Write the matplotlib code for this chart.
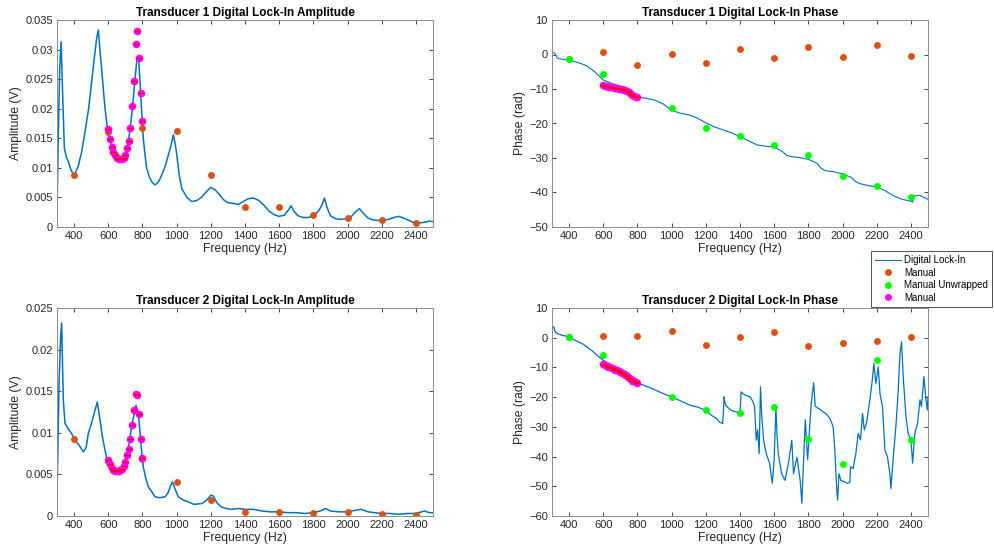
import numpy as np
import matplotlib
matplotlib.use("Agg")
import matplotlib.pyplot as plt
from matplotlib.ticker import FuncFormatter

plt.rcParams['font.family'] = ['Liberation Sans', 'DejaVu Sans']

# ---------------- data ----------------
f_manual = [400, 600, 800, 1000, 1200, 1400, 1600, 1800, 2000, 2200, 2400]
f_fine = [600, 610, 620, 630, 640, 650, 660, 670, 680, 690, 700,
          710, 720, 730, 740, 750, 760, 770, 780, 790, 800]

# transducer 1 amplitude trace
f_amp1 = [300, 308, 316, 324, 331, 343, 355, 366, 380, 396, 410, 425, 445, 464, 485, 503,
          520, 532, 542, 551, 561, 571, 581, 591, 601, 620, 640, 655, 669, 688, 708, 722,
          737, 752, 766, 776, 784, 791, 798, 805, 815, 825, 840, 855, 874, 893, 913, 932,
          952, 967, 981, 991, 1001, 1015, 1030, 1060, 1089, 1120, 1148, 1175, 1200, 1225,
          1250, 1275, 1300, 1330, 1360, 1390, 1420, 1450, 1480, 1510, 1540, 1570, 1600,
          1630, 1655, 1670, 1685, 1710, 1740, 1770, 1800, 1830, 1850, 1865, 1880, 1900,
          1930, 1960, 1990, 2020, 2045, 2070, 2090, 2120, 2150, 2180, 2210, 2240, 2270,
          2300, 2330, 2360, 2390, 2420, 2450, 2480, 2500]
amp1 = [0.0026, 0.0161, 0.027, 0.0313, 0.0244, 0.0133, 0.0118, 0.0111, 0.0098, 0.0088,
        0.0093, 0.0104, 0.0128, 0.0161, 0.020, 0.0246, 0.029, 0.0319, 0.0333, 0.030, 0.0268,
        0.0233, 0.0201, 0.0176, 0.0156, 0.0136, 0.0122, 0.0115, 0.0110, 0.0115, 0.0127,
        0.0153, 0.0189, 0.0235, 0.0279, 0.029, 0.0255, 0.0218, 0.0182, 0.015, 0.0122,
        0.0099, 0.0085, 0.0076, 0.0071, 0.0076, 0.0088, 0.0102, 0.0122, 0.0138, 0.0156,
        0.0142, 0.0122, 0.0088, 0.0065, 0.0050, 0.0043, 0.0045, 0.0051, 0.006, 0.0067,
        0.0063, 0.0055, 0.0046, 0.0041, 0.004, 0.0038, 0.0043, 0.0048, 0.0049, 0.0045,
        0.0037, 0.0027, 0.0021, 0.0018, 0.002, 0.0029, 0.0036, 0.0027, 0.0019, 0.0016,
        0.0016, 0.0019, 0.0027, 0.0037, 0.0049, 0.0033, 0.0019, 0.0014, 0.0013, 0.0014,
        0.0017, 0.0025, 0.0031, 0.0024, 0.0015, 0.0012, 0.0011, 0.0012, 0.0013, 0.0016,
        0.0018, 0.0015, 0.0011, 0.0007, 0.0007, 0.0008, 0.001, 0.0009]
amp1_manual = [0.0088, 0.016, 0.0168, 0.0162, 0.0088, 0.0033, 0.0034, 0.0021, 0.0016, 0.0011, 0.0007]
amp1_fine = [0.0165, 0.0148, 0.0135, 0.0127, 0.0121, 0.0117, 0.0115, 0.0115, 0.0115, 0.0117,
             0.0122, 0.0133, 0.0146, 0.0168, 0.0205, 0.0247, 0.031, 0.0331, 0.0285, 0.0226, 0.0179]

# transducer 1 phase trace
f_ph1 = [300, 305, 312, 320, 330, 345, 370, 400, 450, 500, 550, 600, 650, 700, 750, 775, 800,
         850, 900, 950, 1000, 1050, 1100, 1150, 1200, 1250, 1300, 1350, 1400, 1450, 1500,
         1550, 1600, 1625, 1650, 1675, 1700, 1750, 1800, 1850, 1875, 1900, 1950, 2000, 2050,
         2075, 2100, 2150, 2200, 2250, 2300, 2350, 2400, 2410, 2420, 2450, 2480, 2500]
ph1 = [0.0, 0.5, 0.5, 0.0, -1.0, -1.3, -1.4, -1.7, -2.3, -3.2, -5.0, -7.4, -8.4, -9.2, -10.3,
       -11.0, -12.3, -12.7, -13.2, -14.3, -16.2, -17.0, -17.5, -18.4, -19.8, -21.0, -21.8,
       -22.7, -23.8, -25.0, -26.2, -26.6, -26.8, -27.5, -28.2, -29.3, -29.6, -29.9, -30.4,
       -31.5, -33.0, -33.7, -34.0, -34.6, -35.6, -36.8, -37.4, -38.0, -38.4, -39.5, -41.0,
       -42.0, -42.5, -42.8, -41.0, -40.8, -41.5, -42.0]
ph1_manual = [-1.4, 0.7, -3.0, 0.2, -2.5, 1.6, -1.1, 2.3, -0.6, 2.7, -0.3]
f_unwrap = [400, 600, 1000, 1200, 1400, 1600, 1800, 2000, 2200, 2400]
ph1_unwrap = [-1.4, -5.6, -15.6, -21.3, -23.6, -26.3, -29.1, -35.2, -38.2, -41.3]
ph1_fine = [-8.8, -9.0, -9.2, -9.3, -9.4, -9.5, -9.6, -9.7, -9.8, -9.9, -10.0,
            -10.1, -10.2, -10.4, -10.6, -11.0, -11.4, -11.8, -12.1, -12.3, -12.4]

# transducer 2 amplitude trace
f_amp2 = [300, 312, 320, 327, 337, 347, 365, 386, 405, 430, 454, 470, 483, 503, 522, 536, 552,
          566, 581, 595, 610, 625, 640, 660, 679, 694, 708, 722, 737, 750, 762, 770, 776, 784,
          791, 798, 805, 820, 834, 855, 874, 900, 932, 950, 962, 975, 990, 1010, 1040, 1069,
          1100, 1148, 1175, 1200, 1215, 1235, 1260, 1290, 1320, 1360, 1400, 1450, 1500, 1550,
          1600, 1650, 1700, 1750, 1800, 1840, 1870, 1900, 1950, 2000, 2050, 2080, 2120, 2160,
          2200, 2250, 2300, 2350, 2400, 2450, 2480, 2500]
amp2 = [0.0023, 0.0159, 0.021, 0.0232, 0.0139, 0.0111, 0.0105, 0.0099, 0.0091, 0.0085, 0.0077,
        0.0082, 0.0099, 0.0112, 0.0127, 0.0137, 0.0115, 0.0095, 0.0079, 0.0066, 0.0059, 0.0055,
        0.0053, 0.0053, 0.0057, 0.0064, 0.0073, 0.0087, 0.0109, 0.0121, 0.0133, 0.0128, 0.0123,
        0.0105, 0.0087, 0.0072, 0.0059, 0.0045, 0.0035, 0.0029, 0.0023, 0.0022, 0.0023, 0.0028,
        0.0035, 0.0041, 0.0033, 0.0023, 0.0019, 0.0017, 0.0014, 0.0015, 0.0019, 0.0025, 0.0024,
        0.0016, 0.0011, 0.0009, 0.0008, 0.0009, 0.0008, 0.0008, 0.0006, 0.0005, 0.0005, 0.0004,
        0.0004, 0.0003, 0.0004, 0.0006, 0.0009, 0.0006, 0.0005, 0.0005, 0.0007, 0.0008, 0.0005,
        0.0004, 0.0003, 0.0003, 0.0002, 0.0003, 0.0003, 0.0006, 0.0004, 0.0004]
amp2_manual = [0.0093, 0.0066, 0.0068, 0.0041, 0.0019, 0.0005, 0.0005, 0.0004, 0.0005, 0.0002, 0.0001]
amp2_fine = [0.0067, 0.0062, 0.0058, 0.0055, 0.0054, 0.0054, 0.0054, 0.0055, 0.0057, 0.0060,
             0.0065, 0.0073, 0.0081, 0.0093, 0.0109, 0.0127, 0.0147, 0.0145, 0.0122, 0.0093, 0.0070]

# transducer 2 phase trace
f_ph2 = [300, 305, 312, 318, 330, 360, 400, 440, 483, 541, 575, 600, 650, 700, 750, 775, 800,
         873, 951, 1000, 1050, 1107, 1150, 1200, 1230, 1263, 1278, 1298, 1302, 1307, 1312,
         1320, 1350, 1380, 1400, 1403, 1406, 1420, 1440, 1460, 1475, 1485, 1495, 1503, 1512,
         1520, 1527, 1538, 1553, 1573, 1589, 1600, 1610, 1617, 1624, 1644, 1663, 1683, 1703,
         1713, 1733, 1752, 1762, 1772, 1782, 1796, 1808, 1817, 1831, 1840, 1870, 1909, 1929,
         1945, 1955, 1965, 1971, 1979, 1990, 2010, 2030, 2043, 2047, 2062, 2078, 2092, 2105,
         2117, 2127, 2140, 2160, 2174, 2183, 2195, 2209, 2219, 2234, 2248, 2263, 2277, 2283,
         2297, 2312, 2326, 2336, 2345, 2355, 2371, 2384, 2400, 2410, 2423, 2439, 2453, 2462,
         2476, 2488, 2496, 2500]
ph2 = [1.8, 3.8, 3.5, 2.0, 1.4, 0.8, 0.3, -1.0, -2.2, -4.7, -6.5, -7.6, -9.2, -10.5, -12.0,
       -13.5, -15.2, -16.8, -18.8, -19.9, -21.2, -22.7, -23.3, -24.4, -26.0, -27.2, -28.3,
       -28.9, -26.0, -19.9, -22.0, -23.0, -24.5, -25.0, -25.5, -22.0, -18.2, -19.0, -19.5,
       -20.0, -21.4, -23.0, -34.5, -31.0, -39.0, -16.5, -26.0, -34.5, -38.9, -42.3, -49.0,
       -41.0, -23.5, -33.0, -39.0, -45.8, -48.0, -42.4, -34.5, -45.8, -40.2, -48.0, -55.7,
       -41.0, -27.6, -41.0, -29.8, -22.0, -15.2, -23.1, -24.2, -25.9, -27.5, -30.0, -37.9,
       -50.2, -54.7, -45.7, -48.0, -48.5, -49.0, -48.5, -43.4, -44.0, -38.9, -32.2, -34.4,
       -25.5, -31.0, -28.8, -20.9, -14.3, -8.7, -15.4, -9.8, -18.8, -23.3, -37.9, -40.1,
       -45.7, -50.8, -40.1, -30.0, -17.6, -5.3, -1.4, -13.1, -26.6, -32.2, -34.4, -42.2,
       -32.2, -28.8, -20.9, -23.2, -13.1, -20.9, -24.3, -19.8]
ph2_manual = [0.2, 0.5, 0.6, 2.2, -2.4, 0.1, 1.8, -2.7, -1.8, -1.1, 0.3]
ph2_unwrap = [0.2, -5.8, -19.8, -24.4, -25.2, -23.3, -34.2, -42.4, -7.4, -34.3]
ph2_fine = [-9.0, -9.2, -9.5, -9.7, -10.0, -10.2, -10.5, -10.8, -11.0, -11.2, -11.5,
            -11.8, -12.2, -12.6, -13.0, -13.5, -14.0, -14.4, -14.7, -15.0, -15.2]

# ---------------- plotting ----------------
c_line = '#0072BD'
c_orange = '#D95319'
c_green = '#00FF00'
c_mag = '#FF00FF'
c_axis = '#262626'

fig = plt.figure(figsize=(9.95, 5.52), dpi=100)

left1, left2, width = 57 / 995, 552 / 995, 376 / 995
axes = {
    'a1': fig.add_axes([left1, 1 - 227 / 552, width, 207 / 552]),
    'p1': fig.add_axes([left2, 1 - 227 / 552, width, 207 / 552]),
    'a2': fig.add_axes([left1, 1 - 516 / 552, width, 208 / 552]),
    'p2': fig.add_axes([left2, 1 - 516 / 552, width, 208 / 552]),
}


def style(ax, title, ylabel):
    ax.set_xlim(300, 2500)
    ax.set_xticks(range(400, 2401, 200))
    ax.tick_params(direction='in', top=True, right=True, length=3, width=0.6,
                   labelsize=8, colors=c_axis, pad=3)
    for sp in ax.spines.values():
        sp.set_color('#8c8c8c')
        sp.set_linewidth(0.7)
    ax.set_title(title, fontsize=8.5, fontweight='bold', pad=3)
    ax.set_xlabel('Frequency (Hz)', fontsize=8.7, color=c_axis, labelpad=1)
    ax.set_ylabel(ylabel, fontsize=8.7, color=c_axis, labelpad=2)


def manual_dots(ax, x, y, col):
    return ax.plot(x, y, 'o', color=col, markersize=5, markeredgewidth=0)[0]


def fine_dots(ax, y):
    ax.plot(f_fine, y, 'o', color=c_mag, markersize=5.5, markeredgewidth=0)
    ax.plot(f_fine, y, '_', color='#FF0000', markersize=5, markeredgewidth=1.0)


gfmt = FuncFormatter(lambda v, p: '0' if abs(v) < 1e-12 else ('%g' % round(v, 4)))

# Transducer 1 amplitude
ax = axes['a1']
ax.plot(f_amp1, amp1, color=c_line, linewidth=1.1)
manual_dots(ax, f_manual, amp1_manual, c_orange)
fine_dots(ax, amp1_fine)
ax.set_ylim(0, 0.035)
ax.set_yticks(np.arange(0, 0.0351, 0.005))
ax.yaxis.set_major_formatter(gfmt)
style(ax, 'Transducer 1 Digital Lock-In Amplitude', 'Amplitude (V)')

# Transducer 1 phase
ax = axes['p1']
h_line, = ax.plot(f_ph1, ph1, color=c_line, linewidth=0.8)
h_man = manual_dots(ax, f_manual, ph1_manual, c_orange)
h_unw = manual_dots(ax, f_unwrap, ph1_unwrap, c_green)
fine_dots(ax, ph1_fine)
ax.set_ylim(-50, 10)
ax.set_yticks(range(-50, 11, 10))
style(ax, 'Transducer 1 Digital Lock-In Phase', 'Phase (rad)')

# Transducer 2 amplitude
ax = axes['a2']
ax.plot(f_amp2, amp2, color=c_line, linewidth=1.1)
manual_dots(ax, f_manual, amp2_manual, c_orange)
fine_dots(ax, amp2_fine)
ax.set_ylim(0, 0.025)
ax.set_yticks(np.arange(0, 0.0251, 0.005))
ax.yaxis.set_major_formatter(gfmt)
style(ax, 'Transducer 2 Digital Lock-In Amplitude', 'Amplitude (V)')

# Transducer 2 phase
ax = axes['p2']
ax.plot(f_ph2, ph2, color=c_line, linewidth=0.9)
manual_dots(ax, f_manual, ph2_manual, c_orange)
manual_dots(ax, f_unwrap, ph2_unwrap, c_green)
fine_dots(ax, ph2_fine)
ax.set_ylim(-60, 10)
ax.set_yticks(range(-60, 11, 10))
style(ax, 'Transducer 2 Digital Lock-In Phase', 'Phase (rad)')

h_fine = plt.Line2D([], [], marker='o', linestyle='none', color=c_mag, markersize=5, markeredgewidth=0)
leg = fig.legend([h_line, h_man, h_unw, h_fine],
                 ['Digital Lock-In', 'Manual', 'Manual Unwrapped', 'Manual'],
                 loc='upper left', bbox_to_anchor=(871 / 995, 1 - 251 / 552),
                 borderaxespad=0, fontsize=7, frameon=True, fancybox=False,
                 borderpad=0.45, labelspacing=0.25, handlelength=2.6,
                 handletextpad=0.35)
leg.get_frame().set_edgecolor(c_axis)
leg.get_frame().set_linewidth(0.7)

fig.savefig('out.png', dpi=100)
